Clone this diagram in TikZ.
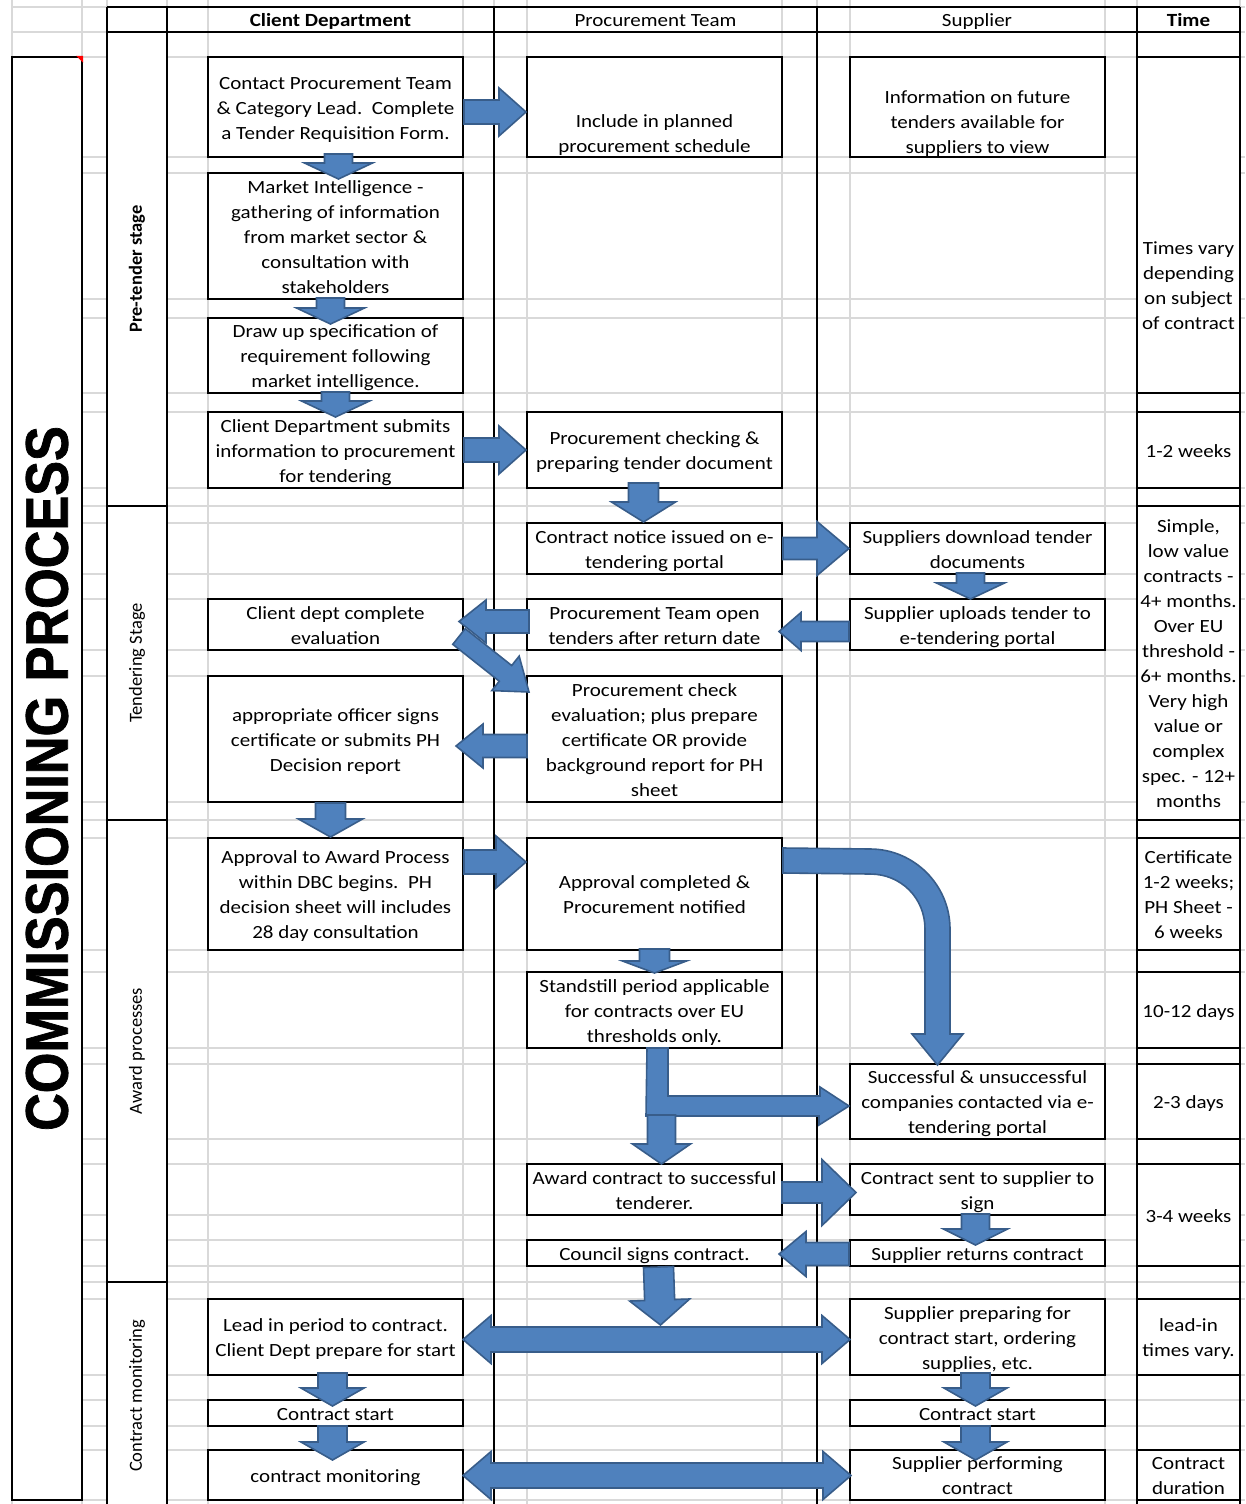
\documentclass[tikz,border=0pt]{standalone}
\usepackage{fontspec}
\setmainfont{Carlito}[FakeStretch=1.13]
\newfontfamily\phasefont{Carlito}
\newfontfamily\titlefont{Liberation Sans}[FakeStretch=0.87,FakeBold=1.2]
\usetikzlibrary{calc}
\definecolor{arrowfill}{HTML}{4F81BD}
\definecolor{arrowline}{HTML}{385D8A}
\newcommand{\boxfont}{\fontsize{18.6}{25}\selectfont}
\newcommand{\tstrut}{\rule[-5.5pt]{0pt}{25pt}}
\newcommand{\blockarrow}[5]{%
\coordinate (ba-s) at #1;
\coordinate (ba-t) at #2;
\coordinate (ba-h) at ($(ba-t)!#5!(ba-s)$);
\filldraw[barrow] ($(ba-s)!#3!90:(ba-t)$) -- ($(ba-h)!#3!90:(ba-t)$) -- ($(ba-h)!#4!90:(ba-t)$) -- (ba-t) -- ($(ba-h)!#4!-90:(ba-t)$) -- ($(ba-h)!#3!-90:(ba-t)$) -- ($(ba-s)!#3!-90:(ba-t)$) -- cycle;}
\newcommand{\dblockarrow}[5]{%
\coordinate (ba-s) at #1;
\coordinate (ba-t) at #2;
\coordinate (ba-h) at ($(ba-t)!#5!(ba-s)$);
\coordinate (ba-g) at ($(ba-s)!#5!(ba-t)$);
\filldraw[barrow] (ba-s) -- ($(ba-g)!#4!90:(ba-t)$) -- ($(ba-g)!#3!90:(ba-t)$) -- ($(ba-h)!#3!90:(ba-t)$) -- ($(ba-h)!#4!90:(ba-t)$) -- (ba-t) -- ($(ba-h)!#4!-90:(ba-t)$) -- ($(ba-h)!#3!-90:(ba-t)$) -- ($(ba-g)!#3!-90:(ba-t)$) -- ($(ba-g)!#4!-90:(ba-t)$) -- cycle;}

\begin{document}
\begin{tikzpicture}[x=1pt,y=-1pt,
grid/.style={draw=black!15,line width=1.6pt},
rule/.style={line width=2.4pt},
boxtext/.style={align=center,inner sep=0pt,font=\boxfont},
box/.style={boxtext,draw,fill=white,line width=2pt,minimum width=255pt},
timecell/.style={boxtext,draw,fill=white,line width=2.4pt,minimum width=103pt},
phasecell/.style={draw,fill=white,line width=2.4pt,rotate=90,minimum height=60pt,inner sep=0pt,font=\phasefont\fontsize{18.5}{22}\selectfont},
titlecell/.style={draw,fill=white,line width=2.4pt,rotate=90,minimum height=70pt,inner sep=0pt,font=\titlefont\bfseries\fontsize{60}{60}\selectfont},
barrow/.style={fill=arrowfill,draw=arrowline,line width=1.6pt}]

\useasboundingbox (0,0) rectangle (1245,1504);

\foreach \x in {12,82,107,167,208,463,494,527,782,817,850,1105,1137,1240}
  \draw[grid] (\x,0) -- (\x,1504);
\foreach \y in {7,32,57,157,173,299,318,393,412,488,506,523,574,599,650,676,802,820,838,950,972,1048,1064,1139,1164,1215,1240,1266,1282,1299,1375,1400,1426,1450,1500}
  \draw[grid] (12,\y) -- (1245,\y);

\draw[rule] (107,7) -- (1240,7);
\draw[rule] (107,32) -- (1240,32);
\foreach \x in {107,167,494,817,1137,1240}
  \draw[rule] (\x,7) -- (\x,1504);
\foreach \a/\b in {32/57,393/412,488/506,820/838,950/972,1048/1064,1139/1164,1266/1299,1375/1450}
  \draw[rule] (1137,\a) rectangle (1240,\b);

\draw (47,778.5) node[titlecell,minimum width=1443pt] (title) {COMMISSIONING PROCESS};
\fill[red] ($(title.south east)+(-7,0)$) -- (title.south east) -- ($(title.south east)+(0,7)$) -- cycle;

\draw (137,269) node[phasecell,minimum width=474pt] (pre) {\bfseries Pre-tender stage};
\draw (137,663) node[phasecell,minimum width=314pt] (tend) {Tendering Stage};
\draw (137,1051) node[phasecell,minimum width=462pt] (award) {Award processes};
\draw (137,1396) node[phasecell,minimum width=228pt] (monit) {Contract monitoring};

\draw (330.5,19.5) node[boxtext] (hclient) {\tstrut\bfseries Client Department};
\draw (655.5,19.5) node[boxtext] (hproc) {\tstrut Procurement Team};
\draw (977,19.5) node[boxtext] (hsupp) {\tstrut Supplier};
\draw (1188.5,19.5) node[boxtext] (htime) {\tstrut\bfseries Time};

\draw (335.5,107) node[box,minimum height=100pt] (c1) {\tstrut Contact Procurement Team\\\& Category Lead.\ \ Complete\\a Tender Requisition Form.\tstrut};
\draw (335.5,236) node[box,minimum height=126pt] (c2) {\tstrut Market Intelligence -\\gathering of information\\from market sector \&\\consultation with\\stakeholders\tstrut};
\draw (335.5,355.5) node[box,minimum height=75pt] (c3) {\tstrut Draw up specification of\\requirement following\\market intelligence.\tstrut};
\draw (335.5,450) node[box,minimum height=76pt] (c4) {\tstrut Client Department submits\\information to procurement\\for tendering\tstrut};
\draw (335.5,624.5) node[box,minimum height=51pt] (c5) {\tstrut Client dept complete\\evaluation\tstrut};
\draw (335.5,739) node[box,minimum height=126pt] (c6) {\tstrut appropriate officer signs\\certificate or submits PH\\Decision report\tstrut};
\draw (335.5,894) node[box,minimum height=112pt] (c7) {\tstrut Approval to Award Process\\within DBC begins.\ \ PH\\decision sheet will includes\\28 day consultation\tstrut};
\draw (335.5,1337) node[box,minimum height=76pt] (c8) {\tstrut Lead in period to contract.\\Client Dept prepare for start\tstrut};
\draw (335.5,1413) node[box,minimum height=26pt] (c9) {\tstrut Contract start};
\draw (335.5,1475) node[box,minimum height=50pt] (c10) {\tstrut contract monitoring};

\draw (654.5,107) node[box,minimum height=100pt] (p1) {};
\draw ($(p1.center)+(0,26)$) node[boxtext] (p1text) {\tstrut Include in planned\\procurement schedule\tstrut};
\draw (654.5,450) node[box,minimum height=76pt] (p2) {\tstrut Procurement checking \&\\preparing tender document\tstrut};
\draw (654.5,548.5) node[box,minimum height=51pt] (p3) {\tstrut Contract notice issued on e-\\tendering portal\tstrut};
\draw (654.5,624.5) node[box,minimum height=51pt] (p4) {\tstrut Procurement Team open\\tenders after return date\tstrut};
\draw (654.5,739) node[box,minimum height=126pt] (p5) {\tstrut Procurement check\\evaluation; plus prepare\\certificate OR provide\\background report for PH\\sheet\tstrut};
\draw (654.5,894) node[box,minimum height=112pt] (p6) {\tstrut Approval completed \&\\Procurement notified\tstrut};
\draw (654.5,1010) node[box,minimum height=76pt] (p7) {\tstrut Standstill period applicable\\for contracts over EU\\thresholds only.\tstrut};
\draw (654.5,1189.5) node[box,minimum height=51pt] (p8) {\tstrut Award contract to successful\\tenderer.\tstrut};
\draw (654.5,1253) node[box,minimum height=26pt] (p9) {\tstrut Council signs contract.};

\draw (977.5,107) node[box,minimum height=100pt] (s1) {};
\draw ($(s1.center)+(0,14)$) node[boxtext] (s1text) {\tstrut Information on future\\tenders available for\\suppliers to view\tstrut};
\draw (977.5,548.5) node[box,minimum height=51pt] (s2) {\tstrut Suppliers download tender\\documents\tstrut};
\draw (977.5,624.5) node[box,minimum height=51pt] (s3) {\tstrut Supplier uploads tender to\\e-tendering portal\tstrut};
\draw (977.5,1101.5) node[box,minimum height=75pt] (s4) {\tstrut Successful \& unsuccessful\\companies contacted via e-\\tendering portal\tstrut};
\draw (977.5,1189.5) node[box,minimum height=51pt] (s5) {\tstrut Contract sent to supplier to\\sign\tstrut};
\draw (977.5,1253) node[box,minimum height=26pt] (s6) {\tstrut Supplier returns contract};
\draw (977.5,1337) node[box,minimum height=76pt] (s7) {\tstrut Supplier preparing for\\contract start, ordering\\supplies, etc.\tstrut};
\draw (977.5,1413) node[box,minimum height=26pt] (s8) {\tstrut Contract start};
\draw (977.5,1475) node[box,minimum height=50pt] (s9) {\tstrut Supplier performing\\contract\tstrut};

\draw (1188.5,225) node[timecell,minimum height=336pt] (t1) {};
\draw ($(t1.center)+(0,60)$) node[boxtext] (t1text) {\tstrut Times vary\\depending\\on subject\\of contract\tstrut};
\draw (1188.5,450) node[timecell,minimum height=76pt] (t2) {\tstrut 1-2 weeks};
\draw (1188.5,663) node[timecell,minimum height=314pt] (t3) {\tstrut Simple,\\low value\\contracts -\\4+ months.\\Over EU\\threshold -\\6+ months.\\Very high\\value or\\complex\\spec. - 12+\\months\tstrut};
\draw (1188.5,894) node[timecell,minimum height=112pt] (t4) {\tstrut Certificate\\1-2 weeks;\\PH Sheet -\\6 weeks\tstrut};
\draw (1188.5,1010) node[timecell,minimum height=76pt] (t5) {\tstrut 10-12 days};
\draw (1188.5,1101.5) node[timecell,minimum height=75pt] (t6) {\tstrut 2-3 days};
\draw (1188.5,1215) node[timecell,minimum height=102pt] (t7) {\tstrut 3-4 weeks};
\draw (1188.5,1337) node[timecell,minimum height=76pt] (t8) {\tstrut lead-in\\times vary.\tstrut};
\draw (1188.5,1475) node[timecell,minimum height=50pt] (t9) {\tstrut Contract\\duration\tstrut};

\blockarrow{($(c1.east)+(0,5)$)}{($(p1.west)+(0,5)$)}{12pt}{24pt}{27pt}
\blockarrow{($(c1.south)+(3,-4)$)}{($(c2.north)+(3,7)$)}{14pt}{34pt}{16pt}
\blockarrow{($(c2.south)+(-5,-2)$)}{($(c3.north)+(-5,7)$)}{14pt}{34pt}{16pt}
\blockarrow{($(c3.south)+(0,-2)$)}{($(c4.north)+(0,6)$)}{14pt}{34pt}{16pt}
\blockarrow{(c4.east)}{(p2.west)}{12pt}{24pt}{27pt}
\blockarrow{($(p2.south)+(-11,-6)$)}{($(p3.north)+(-11,0)$)}{15pt}{32pt}{20pt}
\blockarrow{(p3.east)}{(s2.west)}{11pt}{27pt}{32pt}
\blockarrow{($(s2.south)+(-7,-2)$)}{($(s3.north)+(-7,1)$)}{14pt}{34pt}{16pt}
\blockarrow{($(s3.west)+(0,7)$)}{($(p4.east)+(-4,7)$)}{10pt}{19pt}{22pt}
\blockarrow{($(p4.west)+(3,-3)$)}{($(c5.east)+(-5,-3)$)}{11.5pt}{21.5pt}{27pt}
\blockarrow{($(c5.east)+(-5,12)$)}{($(p5.north west)+(3,17)$)}{10pt}{22pt}{30pt}
\blockarrow{($(p5.west)+(1,7)$)}{($(c6.east)+(-8,7)$)}{11.5pt}{22pt}{27pt}
\blockarrow{($(c6.south)+(-5,0)$)}{($(c7.north)+(-5,0)$)}{15pt}{32pt}{18pt}
\blockarrow{($(c7.east)+(0,-32)$)}{($(p6.west)+(0,-32)$)}{12pt}{26pt}{30pt}
\filldraw[barrow] ($(p6.north east)+(0,11)$) -- (870,849) .. controls (914,849) and (950,885) .. (950,929) -- (950,1034) -- (963,1034) -- ($(s4.north)+(-40,2)$) -- (912,1034) -- (925,1034) -- (925,929) .. controls (925,898) and (901,874) .. (870,874) -- ($(p6.north east)+(0,36)$) -- cycle;
\blockarrow{($(p6.south)+(0,-2)$)}{($(p7.north)+(0,2)$)}{15pt}{32pt}{12pt}
\filldraw[barrow] ($(p7.south)+(-7.5,-1)$) -- ++(21,0) -- ++(0,48) -- ++(152,0) -- ++(0,-9) -- ($(s4.west)+(0,4.5)$) -- ++(-30,19) -- ++(0,-9) -- ++(-173,0) -- cycle;
\blockarrow{($(p7.south)+(7,66)$)}{($(p8.north)+(7,1)$)}{14pt}{29pt}{20pt}
\blockarrow{($(p8.east)+(-1,3)$)}{($(s5.west)+(7,3)$)}{10.5pt}{33pt}{34pt}
\blockarrow{($(s5.south)+(-2,-2)$)}{($(s6.north)+(-2,6)$)}{14pt}{32pt}{16pt}
\blockarrow{($(s6.west)+(0,1)$)}{($(p9.east)+(-4,1)$)}{11.5pt}{22.5pt}{27pt}
\dblockarrow{($(c8.east)+(-1,2.5)$)}{($(s7.west)+(1,2.5)$)}{12.5pt}{24pt}{28pt}
\coordinate (lead) at ($(c8.east)!0.5!(s7.west)$);
\blockarrow{($(p9.south)+(4,0)$)}{($(lead)+(4,-12)$)}{15pt}{30pt}{25pt}
\blockarrow{($(c8.south)+(-3,-3)$)}{($(c9.north)+(-3,7)$)}{14.5pt}{31.5pt}{18pt}
\blockarrow{($(s7.south)+(-2,-3)$)}{($(s8.north)+(-2,7)$)}{14.5pt}{31.5pt}{18pt}
\blockarrow{($(c9.south)+(-3,-1)$)}{($(c10.north)+(-3,11)$)}{14.5pt}{31.5pt}{18pt}
\blockarrow{($(s8.south)+(-2,-1)$)}{($(s9.north)+(-2,11)$)}{14.5pt}{31.5pt}{18pt}
\dblockarrow{($(c10.east)+(-1,0.5)$)}{($(s9.west)+(2,0.5)$)}{12.5pt}{24pt}{28pt}
\end{tikzpicture}
\end{document}
